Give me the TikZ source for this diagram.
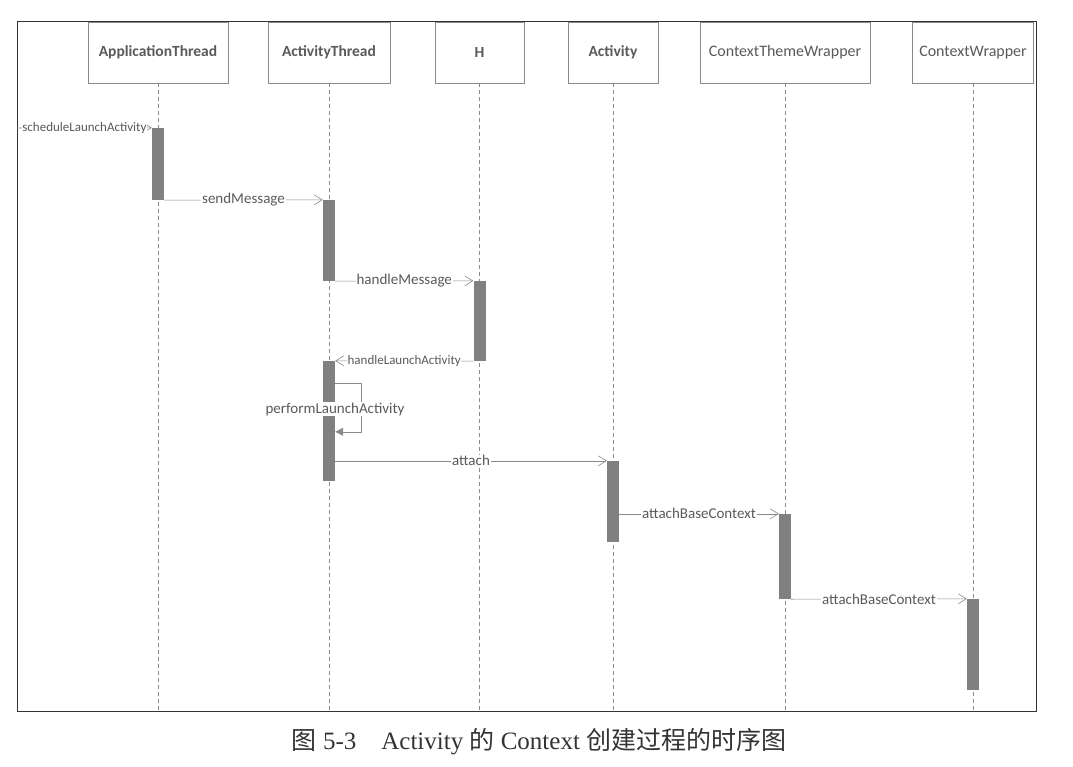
\documentclass[tikz,border=0pt]{standalone}
\usepackage{fontspec}
\setmainfont{Carlito}
\newfontfamily\capfont{Liberation Serif}
\newfontfamily\cjk{Noto Sans CJK SC}
\usetikzlibrary{arrows.meta}
\definecolor{linegray}{HTML}{8A8A8A}
\definecolor{textgray}{HTML}{5A5A5A}
\definecolor{actgray}{HTML}{808080}
\begin{document}
\begin{tikzpicture}[x=1pt,y=1pt]
    \tikzstyle{every node}+=[inner sep=0pt]
    \tikzstyle{head}=[draw=linegray, fill=white, minimum height=61pt, text=textgray, font=\bfseries\fontsize{15.5}{17}\selectfont]
    \tikzstyle{life}=[linegray, dashed, dash pattern=on 4pt off 3pt, line width=0.5pt]
    \tikzstyle{act}=[fill=actgray, minimum width=12pt]
    \tikzstyle{msg}=[linegray, line width=0.6pt, -{Straight Barb[length=8pt,width=10pt]}]
    \tikzstyle{lbl}=[fill=white, inner sep=1pt, text=textgray, font=\fontsize{15}{17}\selectfont]
    \tikzstyle{small}=[fill=white, inner sep=0.5pt, text=textgray, font=\fontsize{13}{15}\selectfont]
    \useasboundingbox (0,0) rectangle (1073,-767);
    % frame
    \draw [black!80, line width=0.8pt] (17,-21) rectangle (1036,-711);
    \coordinate (left) at (17,-128);
    % lifeline heads
    \node [head, minimum width=140pt] (apt) at (158,-52.5) {ApplicationThread};
    \node [head, minimum width=122pt] (at) at (329,-52.5) {ActivityThread};
    \node [head, minimum width=89pt] (h) at (479.5,-52.5) {H};
    \node [head, minimum width=90pt] (act) at (613,-52.5) {Activity};
    \node [head, minimum width=170pt, font=\fontsize{16}{18}\selectfont] (ctw) at (785,-52.5) {ContextThemeWrapper};
    \node [head, minimum width=121pt, font=\fontsize{16}{18}\selectfont] (cw) at (973,-52.5) {ContextWrapper};
    % lifelines
    \coordinate (aptEnd) at (158,-711);
    \coordinate (atEnd) at (329,-711);
    \coordinate (hEnd) at (479.5,-711);
    \coordinate (actEnd) at (613,-711);
    \coordinate (ctwEnd) at (785,-711);
    \coordinate (cwEnd) at (973,-711);
    \draw [life] (apt.south) -- (aptEnd);
    \draw [life] (at.south) -- (atEnd);
    \draw [life] (h.south) -- (hEnd);
    \draw [life] (act.south) -- (actEnd);
    \draw [life] (ctw.south) -- (ctwEnd);
    \draw [life] (cw.south) -- (cwEnd);
    % activations
    \node [act, minimum height=72pt] (a1) at (158,-164) {};
    \node [act, minimum height=81pt] (a2) at (329,-240.5) {};
    \node [act, minimum height=80pt] (a3) at (479.5,-321) {};
    \node [act, minimum height=120pt] (a4) at (329,-421) {};
    \node [act, minimum height=81pt] (a5) at (613,-501.5) {};
    \node [act, minimum height=85pt] (a6) at (785,-556.5) {};
    \node [act, minimum height=91pt] (a7) at (973,-644.5) {};
    % messages
    \draw [msg] (left) -- (a1.north west) node [small, midway] {scheduleLaunchActivity};
    \draw [msg] (a1.south east) -- (a2.north west) node [lbl, midway] {sendMessage};
    \draw [msg] (a2.south east) -- (a3.north west) node [lbl, midway] {handleMessage};
    \draw [msg] (a3.south west) -- (a4.north east) node [small, midway] {handleLaunchActivity};
    \draw [linegray, line width=0.6pt, -{Triangle[length=8pt,width=8pt]}] ([yshift=-22pt]a4.north east) -- ++(26,0) |- ([yshift=-71pt]a4.north east);
    \node [lbl] (perf) at (335,-409) {performLaunchActivity};
    \draw [msg] (a4.east |- a5.north) -- (a5.north west) node [lbl, midway] {attach};
    \draw [msg] (a5.east |- a6.north) -- (a6.north west) node [lbl, midway] {attachBaseContext};
    \draw [msg] (a6.south east) -- (a7.north west) node [lbl, midway] {attachBaseContext};
    % caption
    \node [text=black!80, font=\fontsize{25}{28}\selectfont] (caption) at (539,-742) {{\cjk 图}\capfont{} 5-3\hspace{1em}Activity {\cjk 的} Context {\cjk 创建过程的时序图}};
\end{tikzpicture}
\end{document}
